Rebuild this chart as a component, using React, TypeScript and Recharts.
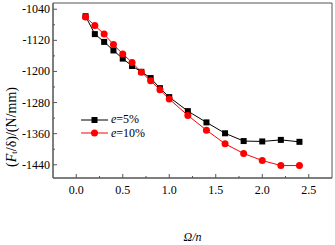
import React from 'react';
import { LineChart, Line, XAxis, YAxis, ReferenceArea, Legend } from 'recharts';

const xValues = [0.1, 0.2, 0.3, 0.4, 0.5, 0.6, 0.7, 0.8, 0.9, 1.0, 1.2, 1.4, 1.6, 1.8, 2.0, 2.2, 2.4];
const e5Values = [-1058, -1104, -1124, -1146, -1167, -1186, -1201, -1217, -1243, -1266, -1302, -1331, -1359, -1379, -1380, -1376, -1381];
const e10Values = [-1060, -1082, -1104, -1131, -1155, -1177, -1202, -1224, -1247, -1271, -1313, -1351, -1386, -1411, -1429, -1442, -1442];
const xTicks = [0, 0.25, 0.5, 0.75, 1, 1.25, 1.5, 1.75, 2, 2.25, 2.5];
const xMajor = [0, 0.5, 1, 1.5, 2, 2.5];
const yTicks = [-1440, -1400, -1360, -1320, -1280, -1240, -1200, -1160, -1120, -1080, -1040];
const yMajor = [-1440, -1360, -1280, -1200, -1120, -1040];
const seriesNames = ['e=5%', 'e=10%'];

const data = xValues.map((x, i) => ({ x, e5: e5Values[i], e10: e10Values[i] }));

const FONT = "'Liberation Serif', 'Times New Roman', serif";
const AXIS = '#555';

const isMajor = (list: number[], v: number) => list.some((m) => Math.abs(m - v) < 1e-6);

const XTick = (props: any) => {
  const { x, y, payload } = props;
  const major = isMajor(xMajor, payload.value);
  return (
    <g>
      <line x1={x} x2={x} y1={y} y2={y - (major ? 4 : 2)} stroke={AXIS} strokeWidth={1} />
      {major && (
        <text x={x} y={y + 12} textAnchor="middle" dominantBaseline="central" fontFamily={FONT} fontSize={12} fill="#000">
          {payload.value.toFixed(1)}
        </text>
      )}
    </g>
  );
};

const YTick = (props: any) => {
  const { x, y, payload } = props;
  const major = isMajor(yMajor, payload.value);
  return (
    <g>
      <line x1={x} x2={x + (major ? 4 : 2)} y1={y} y2={y} stroke={AXIS} strokeWidth={1} />
      {major && (
        <text x={x - 3} y={y} textAnchor="end" dominantBaseline="central" fontFamily={FONT} fontSize={12} fill="#000">
          {payload.value}
        </text>
      )}
    </g>
  );
};

const SquareDot = (props: any) => {
  const { cx, cy } = props;
  if (cx == null || cy == null) return null;
  return <rect x={cx - 3} y={cy - 3} width={6} height={6} fill="#000" />;
};

const CircleDot = (props: any) => {
  const { cx, cy } = props;
  if (cx == null || cy == null) return null;
  return <circle cx={cx} cy={cy} r={3.5} fill="#ff0000" />;
};

const LegendContent = () => (
  <div style={{ fontFamily: FONT, fontSize: 12, lineHeight: '13.6px' }}>
    {seriesNames.map((name, i) => {
      const color = i === 0 ? '#000' : '#ff0000';
      const [pre, post] = name.split('=');
      return (
        <div key={name} style={{ display: 'flex', alignItems: 'center', height: 13.6 }}>
          <svg width={30} height={12} style={{ display: 'block' }}>
            <line x1={0} x2={27} y1={6} y2={6} stroke={color} strokeWidth={1} />
            {i === 0 ? (
              <rect x={10.5} y={3} width={6} height={6} fill={color} />
            ) : (
              <circle cx={13.5} cy={6} r={3.5} fill={color} />
            )}
          </svg>
          <span>
            <i>{pre}</i>={post}
          </span>
        </div>
      );
    })}
  </div>
);

export default function App() {
  return (
    <div style={{ position: 'absolute', left: 0, top: 0, width: 335, height: 245, background: '#fff' }}>
      <LineChart width={335} height={245} data={data} margin={{ top: 3, right: 3, bottom: 0, left: 0 }}>
        <XAxis
          dataKey="x"
          type="number"
          domain={[-0.25, 2.75]}
          ticks={xTicks}
          interval={0}
          tick={<XTick />}
          tickLine={false}
          tickSize={0}
          tickMargin={0}
          height={37}
          stroke={AXIS}
          allowDataOverflow
        />
        <YAxis
          type="number"
          domain={[-1474, -1024]}
          ticks={yTicks}
          interval={0}
          tick={<YTick />}
          tickLine={false}
          tickSize={0}
          tickMargin={0}
          width={53}
          stroke={AXIS}
          allowDataOverflow
        />
        <ReferenceArea x1={-0.25} x2={2.75} y1={-1474} y2={-1024} fill="none" stroke={AXIS} strokeWidth={1} ifOverflow="visible" />
        <Line dataKey="e5" stroke="#000" strokeWidth={1} dot={<SquareDot />} isAnimationActive={false} name={seriesNames[0]} />
        <Line dataKey="e10" stroke="#ff0000" strokeWidth={1} dot={<CircleDot />} isAnimationActive={false} name={seriesNames[1]} />
        <Legend
          content={<LegendContent />}
          wrapperStyle={{ position: 'absolute', left: 81, top: 113, width: 80, height: 30 }}
        />
        <text x={192.5} y={236.5} textAnchor="middle" dominantBaseline="central" fontFamily={FONT} fontSize={12} fontStyle="italic" fill="#000">
          Ω/n
        </text>
        <text
          x={11}
          y={127}
          transform="rotate(-90 11 127)"
          textAnchor="middle"
          dominantBaseline="central"
          fontFamily={FONT}
          fontSize={14}
          fill="#000"
        >
          (<tspan fontStyle="italic">F</tspan>
          <tspan fontSize={9} dy={3}>t</tspan>
          <tspan dy={-3}>/δ)/(N/mm)</tspan>
        </text>
      </LineChart>
    </div>
  );
}
